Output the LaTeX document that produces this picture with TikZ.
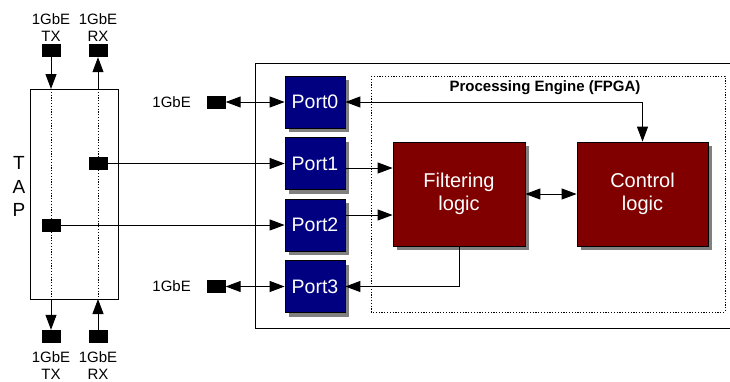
\documentclass[tikz,border=0pt]{standalone}
\usepackage{fontspec}
\setmainfont{Liberation Sans}
\usetikzlibrary{arrows.meta,shadows}

\definecolor{portblue}{RGB}{0,0,128}
\definecolor{logicred}{RGB}{128,0,0}
\definecolor{shadowgray}{RGB}{128,128,128}

\tikzset{
  line/.style={line width=1pt, black},
  arr/.style={line, -{Triangle[length=15pt,width=11pt]}},
  darr/.style={line, {Triangle[length=15pt,width=11pt]}-{Triangle[length=15pt,width=11pt]}},
  sq/.style={fill=black, minimum width=19pt, minimum height=13pt, inner sep=0pt},
  boxshadow/.style={drop shadow={shadow xshift=4pt, shadow yshift=-4pt, fill=shadowgray, opacity=1}},
  portbox/.style={draw=black, line width=0.8pt, fill=portblue, text=white, boxshadow,
    minimum width=60pt, minimum height=52pt, inner sep=0pt,
    font=\fontsize{19.5}{22}\selectfont},
  logicbox/.style={draw=black, line width=0.8pt, fill=logicred, text=white, boxshadow,
    minimum height=104pt, inner sep=0pt, align=center,
    font=\fontsize{20}{23}\selectfont},
  lbl/.style={inner sep=0pt, align=center, font=\fontsize{15}{16.5}\selectfont},
  tapletter/.style={inner sep=0pt, font=\fontsize{19}{21}\selectfont},
  fine dots/.style={line width=0.8pt, dash pattern=on 1.2pt off 1.6pt},
}

\begin{document}
\begin{tikzpicture}[x=1pt, y=-1pt]
  \useasboundingbox (0,0) rectangle (730,381);

  % enclosure of the capture unit (open on the right)
  \draw[line] (730,63) -- (255,63) -- (255,328) -- (730,328);
  % FPGA region
  \draw[fine dots] (371,76) rectangle (725,312);
  \node[inner sep=0pt, font=\bfseries\fontsize{15}{17}\selectfont] (fpga) at (545,88) {Processing Engine (FPGA)};

  % TAP block
  \node[draw=black, line width=0.8pt, minimum width=88pt, minimum height=210pt, inner sep=0pt] (tap) at (74,194) {};
  \node[tapletter] (tT) at (19,162.5) {T};
  \node[tapletter] (tA) at (19,187) {A};
  \node[tapletter] (tP) at (19,210) {P};
  \coordinate (txtop) at (51,89);
  \coordinate (rxtop) at (98,89);
  \coordinate (txbot) at (51,299);
  \coordinate (rxbot) at (98,299);
  \draw[fine dots] (txtop) -- (txbot);
  \draw[fine dots] (rxtop) -- (rxbot);

  % external link ends of the TAP
  \node[sq] (txA) at (51,50.5) {};
  \node[sq] (rxA) at (98,50.5) {};
  \node[sq] (txB) at (51,336.5) {};
  \node[sq] (rxB) at (98,336.5) {};
  \node[lbl] (txAl) at (51,27.5) {1GbE\\TX};
  \node[lbl] (rxAl) at (98,27.5) {1GbE\\RX};
  \node[lbl] (txBl) at (51,365.5) {1GbE\\TX};
  \node[lbl] (rxBl) at (98,365.5) {1GbE\\RX};
  \draw[arr] (txA.south) -- (txtop);
  \draw[arr] (rxtop) -- (rxA.south);
  \draw[arr] (txbot) -- (txB.north);
  \draw[arr] (rxB.north) -- (rxbot);

  % monitor taps inside the TAP
  \node[sq] (rxin) at (98,163.5) {};
  \node[sq] (txin) at (51,225) {};

  % ports
  \node[portbox] (port0) at (315,102) {Port0};
  \node[portbox] (port1) at (315,163.5) {Port1};
  \node[portbox] (port2) at (315,225) {Port2};
  \node[portbox] (port3) at (315,286.5) {Port3};

  % logic blocks
  \node[logicbox, minimum width=132pt] (filt) at (459,194) {Filtering\\logic};
  \node[logicbox, minimum width=131pt] (ctrl) at (642.5,194) {Control\\logic};

  % management links
  \node[sq] (g0) at (216,102) {};
  \node[sq] (g3) at (216,286.5) {};
  \node[lbl, anchor=east] (g0l) at (191,102) {1GbE};
  \node[lbl, anchor=east] (g3l) at (191,286.5) {1GbE};
  \draw[darr] (g0.east) -- (port0.west);
  \draw[darr] (g3.east) -- (port3.west);

  % monitored traffic into the ports
  \draw[arr] (rxin.east) -- (port1.west);
  \draw[arr] (txin.east) -- (port2.west);

  % ports to filtering logic
  \coordinate (p1out) at ([yshift=-4.5pt]port1.east);
  \coordinate (p2out) at ([yshift=10pt]port2.east);
  \draw[arr] (p1out) -- (p1out -| filt.west);
  \draw[arr] (p2out) -- (p2out -| filt.west);

  % internal links
  \draw[darr] (filt.east) -- (ctrl.west);
  \draw[darr] (ctrl.north) |- (port0.east);
  \draw[arr] (filt.south) |- (port3.east);
\end{tikzpicture}
\end{document}
